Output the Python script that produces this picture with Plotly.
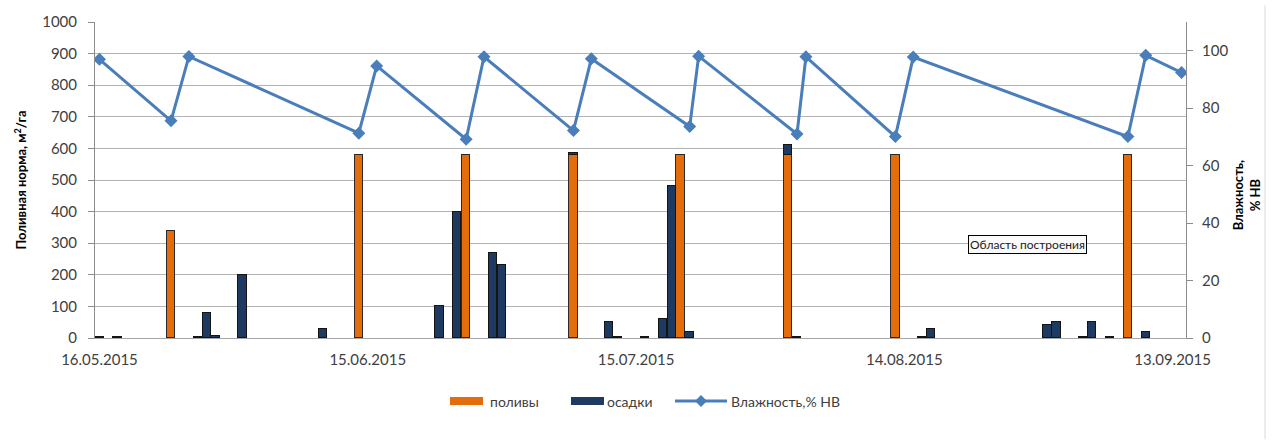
import plotly.graph_objects as go

# Irrigation events (поливы), m3/ha
irrigation_dates = ["2015-05-24", "2015-06-14", "2015-06-26", "2015-07-08",
                    "2015-07-20", "2015-08-01", "2015-08-13", "2015-09-08"]
irrigation_values = [340, 580, 580, 580, 580, 580, 580, 580]

# Precipitation (осадки), converted to m3/ha
rain_dates = ["2015-05-16", "2015-05-18", "2015-05-27", "2015-05-28", "2015-05-29",
              "2015-06-01", "2015-06-10", "2015-06-23", "2015-06-25", "2015-06-29",
              "2015-06-30", "2015-07-08", "2015-07-12", "2015-07-13", "2015-07-16",
              "2015-07-18", "2015-07-19", "2015-07-21", "2015-08-01", "2015-08-02",
              "2015-08-16", "2015-08-17", "2015-08-30", "2015-08-31", "2015-09-03",
              "2015-09-04", "2015-09-06", "2015-09-10"]
rain_values = [3, 3, 4, 80, 5,
               200, 30, 100, 400, 270,
               230, 7, 50, 3, 3,
               60, 480, 20, 30, 3,
               3, 30, 40, 50, 3,
               50, 3, 20]

# Soil moisture, % of field capacity (Влажность, % НВ)
moisture_dates = ["2015-05-16", "2015-05-24", "2015-05-26", "2015-06-14", "2015-06-16",
                  "2015-06-26", "2015-06-28", "2015-07-08", "2015-07-10", "2015-07-21",
                  "2015-07-22", "2015-08-02", "2015-08-03", "2015-08-13", "2015-08-15",
                  "2015-09-08", "2015-09-10", "2015-09-14"]
moisture_values = [97.0, 75.6, 98.0, 71.3, 94.7,
                   69.2, 97.9, 72.2, 97.2, 73.6,
                   98.1, 71.0, 97.9, 70.1, 97.8,
                   70.1, 98.4, 92.4]

left_ticks = list(range(0, 1001, 100))
right_ticks = list(range(0, 101, 20))

DAY_MS = 86400000
ORANGE = "#e46c0a"
NAVY = "#1f3a60"
BLUE = "#4a7ebb"
TEXT = "#404040"
FONT = "Lato, 'Open Sans', sans-serif"
NARROW = "'Liberation Sans Narrow', 'Arial Narrow', Lato, sans-serif"

W, H = 1272, 441
ML, MR, MT, MB = 95, 86, 17, 103
PW, PH = W - ML - MR, H - MT - MB


def px(x):
    return (x - ML) / PW


def py(y):
    return (H - MB - y) / PH


fig = go.Figure()
fig.add_trace(go.Bar(
    x=irrigation_dates, y=irrigation_values, name="поливы",
    width=0.95 * DAY_MS, marker=dict(color=ORANGE, line=dict(color="#2a2a2a", width=1)),
    showlegend=False,
))
fig.add_trace(go.Bar(
    x=rain_dates, y=rain_values, name="осадки",
    width=0.95 * DAY_MS, marker=dict(color=NAVY, line=dict(color="#141414", width=1)),
    showlegend=False,
))
fig.add_trace(go.Scatter(
    x=moisture_dates, y=moisture_values, name="Влажность,% НВ", yaxis="y2",
    mode="lines+markers", line=dict(color=BLUE, width=3),
    marker=dict(symbol="diamond", size=10, color=BLUE),
    showlegend=False,
))

# Legend drawn as shapes and labels
shapes = [
    dict(type="rect", xref="paper", yref="paper", x0=px(450), x1=px(483), y0=py(406), y1=py(398),
         fillcolor=ORANGE, line=dict(width=0)),
    dict(type="rect", xref="paper", yref="paper", x0=px(571), x1=px(604), y0=py(406), y1=py(398),
         fillcolor=NAVY, line=dict(width=0)),
    dict(type="line", xref="paper", yref="paper", x0=px(675), x1=px(727), y0=py(402), y1=py(402),
         line=dict(color=BLUE, width=3)),
    dict(type="path", xref="paper", yref="paper",
         path=f"M {px(701)},{py(396)} L {px(707)},{py(402)} L {px(701)},{py(408)} L {px(695)},{py(402)} Z",
         fillcolor=BLUE, line=dict(width=0)),
    # chart area edge
    dict(type="line", xref="paper", yref="paper", x0=px(1265), x1=px(1265), y0=py(441), y1=py(0),
         line=dict(color="#d9d9d9", width=1)),
]

annotations = [
    dict(text="поливы", xref="paper", yref="paper", x=px(488), y=py(402), xanchor="left",
         yanchor="middle", showarrow=False, font=dict(family=FONT, size=14, color=TEXT)),
    dict(text="осадки", xref="paper", yref="paper", x=px(605), y=py(402), xanchor="left",
         yanchor="middle", showarrow=False, font=dict(family=FONT, size=14, color=TEXT)),
    dict(text="Влажность,% НВ", xref="paper", yref="paper", x=px(729), y=py(402), xanchor="left",
         yanchor="middle", showarrow=False, font=dict(family=FONT, size=14, color=TEXT)),
    dict(text="<b>Влажность,<br>% НВ</b>", xref="paper", yref="paper", x=px(1246), y=py(193),
         xanchor="center", yanchor="middle", textangle=-90, showarrow=False,
         font=dict(family=NARROW, size=13, color="#000000")),
    dict(text="Область построения", xref="paper", yref="paper", x=px(1027), y=py(243.5),
         xanchor="center", yanchor="middle", showarrow=False, bgcolor="#fafafa",
         bordercolor="#000000", borderwidth=1, borderpad=1,
         font=dict(family=FONT, size=12, color="#202020")),
]

fig.update_layout(
    width=W, height=H,
    margin=dict(l=ML, r=MR, t=MT, b=MB),
    paper_bgcolor="white", plot_bgcolor="white",
    barmode="stack", bargap=0,
    shapes=shapes, annotations=annotations,
    xaxis=dict(
        type="date", range=["2015-05-15 12:00", "2015-09-14 12:00"],
        tick0="2015-05-16", dtick=30 * DAY_MS, tickformat="%d.%m.%Y",
        showgrid=False, showline=True, linecolor="#a6a6a6", linewidth=1,
        ticks="", ticklabelstandoff=8,
        tickfont=dict(family=FONT, size=15, color=TEXT), zeroline=False,
    ),
    yaxis=dict(
        range=[0, 1000], tickvals=left_ticks,
        showgrid=True, gridcolor="#b3b3b3", gridwidth=1,
        showline=True, linecolor="#8c8c8c", linewidth=1,
        ticks="outside", ticklen=6, tickcolor="#8c8c8c", ticklabelstandoff=8,
        tickfont=dict(family=FONT, size=15, color=TEXT), zeroline=False,
        title=dict(text="<b>Поливная норма, м<sup>2</sup>/га</b>", standoff=12,
                   font=dict(family=NARROW, size=13, color="#000000")),
    ),
    yaxis2=dict(
        overlaying="y", side="right", range=[0, 110], tickvals=right_ticks,
        showgrid=False, showline=True, linecolor="#8c8c8c", linewidth=1,
        ticks="outside", ticklen=6, tickcolor="#8c8c8c", ticklabelstandoff=6,
        tickfont=dict(family=FONT, size=15, color=TEXT), zeroline=False,
    ),
)

fig.write_html("out.html")
